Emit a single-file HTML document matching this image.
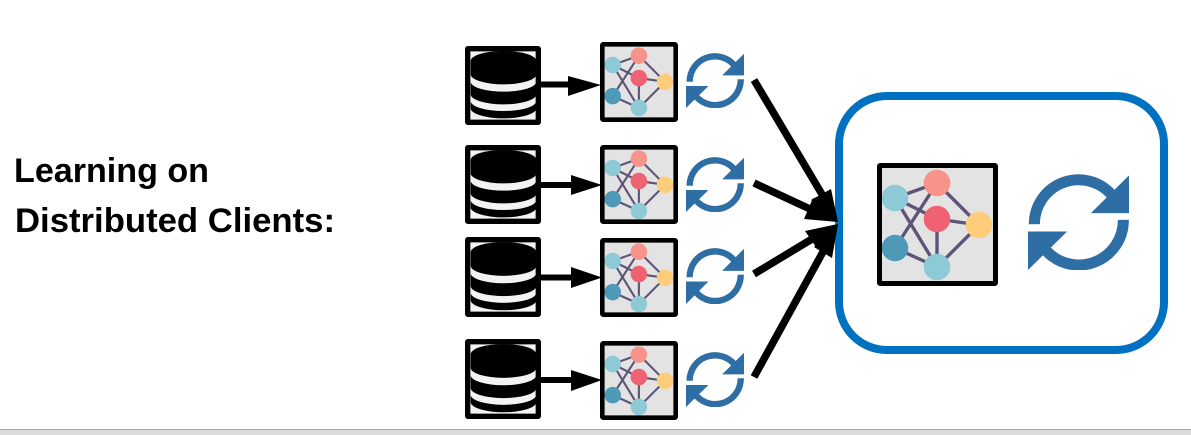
<!DOCTYPE html>
<html>
<head>
<meta charset="utf-8">
<style>
html,body{margin:0;padding:0;background:#fff;width:1191px;height:435px;overflow:hidden}
svg{display:block;position:absolute;left:0;top:0}
</style>
</head>
<body>
<svg width="1191" height="435" viewBox="0 0 1191 435" xmlns="http://www.w3.org/2000/svg" style="filter:blur(.35px)">
<defs>
<symbol id="net" viewBox="0 0 121 123" preserveAspectRatio="none">
<rect width="121" height="123" fill="#e3e3e3"/>
<g stroke="#5e5478" stroke-width="3.4" fill="none">
<path d="M18 35L60 20M18 35L60 56M18 35L60 104M60 20L18 85M60 20L102 62M60 56L102 62M60 56L60 104M18 85L60 104M102 62L60 104"/>
</g>
<circle cx="18" cy="35" r="13.3" fill="#8ec9d6"/>
<circle cx="60" cy="20" r="13.3" fill="#f6938b"/>
<circle cx="60" cy="56" r="13.3" fill="#ef6273"/>
<circle cx="102" cy="62" r="13.3" fill="#fdcd7a"/>
<circle cx="18" cy="85" r="13.3" fill="#4e98b8"/>
<circle cx="60" cy="104" r="13.3" fill="#8ec9d6"/>
</symbol>
<symbol id="sync" viewBox="595 268 302 287" preserveAspectRatio="none">
<g fill="none" stroke="#2f6ea5" stroke-width="33">
<path d="M614 418A132 132 0 0 1 845 330"/>
<path d="M880 405A133 133 0 0 1 650 498"/>
</g>
<path d="M897 272V385H783Z" fill="#2f6ea5"/>
<path d="M595 440H712L595 555Z" fill="#2f6ea5"/>
</symbol>
<symbol id="db" viewBox="30 33 227 237" preserveAspectRatio="none">
<rect x="30" y="33" width="227" height="237" fill="#f3f3f3"/>
<path d="M47 78A98 30 0 0 1 243 78V118A98 30 0 0 1 47 118Z" fill="#000"/>
<path d="M47 140A98 30 0 0 0 243 140V178A98 30 0 0 1 47 178Z" fill="#000"/>
<path d="M47 198A98 30 0 0 0 243 198V220A98 30 0 0 1 47 220Z" fill="#000"/>
<rect x="38" y="41" width="211" height="221" rx="1" fill="none" stroke="#000" stroke-width="16"/>
</symbol>
</defs>

<!-- left label -->
<g font-family="'Liberation Sans',sans-serif" font-weight="700" font-size="34" fill="#000">
<text x="14" y="182" textLength="195" lengthAdjust="spacingAndGlyphs">Learning on</text>
<text x="15" y="232" textLength="320" lengthAdjust="spacingAndGlyphs">Distributed Clients:</text>
</g>

<!-- row 1 -->
<use href="#db" x="465" y="46" width="76" height="79"/>
<path d="M541 84.500H570" stroke="#000" stroke-width="6"/>
<path d="M568 76L601 85L568 96Z" fill="#000"/>
<rect x="602" y="44" width="74" height="76" fill="#e3e3e3"/>
<use href="#net" x="601.500" y="43.200" width="75.400" height="76.600"/>
<rect x="602.300" y="44.300" width="73.400" height="75.400" rx="1" fill="none" stroke="#000" stroke-width="4.600"/>
<use href="#sync" x="686" y="53" width="58" height="55"/>

<!-- row 2 -->
<use href="#db" x="465" y="145" width="76" height="79"/>
<path d="M541 185H572" stroke="#000" stroke-width="6"/>
<path d="M571 175L602 185L571 195Z" fill="#000"/>
<use href="#net" x="601.500" y="146.200" width="75.400" height="76.600"/>
<rect x="602.300" y="147.300" width="73.400" height="74.400" rx="1" fill="none" stroke="#000" stroke-width="4.600"/>
<use href="#sync" x="686" y="157" width="58" height="55"/>

<!-- row 3 -->
<use href="#db" x="465" y="237" width="76" height="80"/>
<path d="M541 277.500H572" stroke="#000" stroke-width="6"/>
<path d="M571 267L602 277.500L571 288Z" fill="#000"/>
<use href="#net" x="601.500" y="239.200" width="75.400" height="76.600"/>
<rect x="602.300" y="240.300" width="73.400" height="74.400" rx="1" fill="none" stroke="#000" stroke-width="4.600"/>
<use href="#sync" x="686" y="248" width="58" height="56"/>

<!-- row 4 -->
<use href="#db" x="465" y="339" width="76" height="80"/>
<path d="M541 380H572" stroke="#000" stroke-width="6"/>
<path d="M571 370L602 380L571 391Z" fill="#000"/>
<use href="#net" x="601.500" y="342.200" width="75.400" height="76.600"/>
<rect x="602.300" y="343.300" width="73.400" height="74.400" rx="1" fill="none" stroke="#000" stroke-width="4.600"/>
<use href="#sync" x="686" y="352" width="58" height="55"/>

<!-- server box -->
<rect x="839" y="96" width="325" height="254" rx="48" fill="#fff" stroke="#0070c0" stroke-width="8"/>
<use href="#net" x="877" y="163" width="121" height="123"/>
<rect x="879.500" y="165.500" width="116" height="118" rx="1" fill="none" stroke="#000" stroke-width="5"/>
<use href="#sync" x="1028" y="174" width="101" height="96"/>

<!-- big arrows -->
<g stroke="#000" stroke-width="7.500" fill="none">
<path d="M754 80L823 196"/>
<path d="M754 183L811 209.500"/>
<path d="M754 274L812 239"/>
<path d="M754 377L824 250"/>
</g>
<g fill="#000">
<path d="M838 222L831 189L811 200Z"/>
<path d="M838 222L813 198L804 219Z"/>
<path d="M838 224L818 250L805 231Z"/>
<path d="M838 224L832 258L814 247Z"/>
</g>

<!-- bottom bar -->
<rect x="0" y="429" width="1191" height="6" fill="#dcdcdc"/>
<rect x="0" y="429" width="1191" height="1" fill="#a8a8a8"/>
</svg>
</body>
</html>
